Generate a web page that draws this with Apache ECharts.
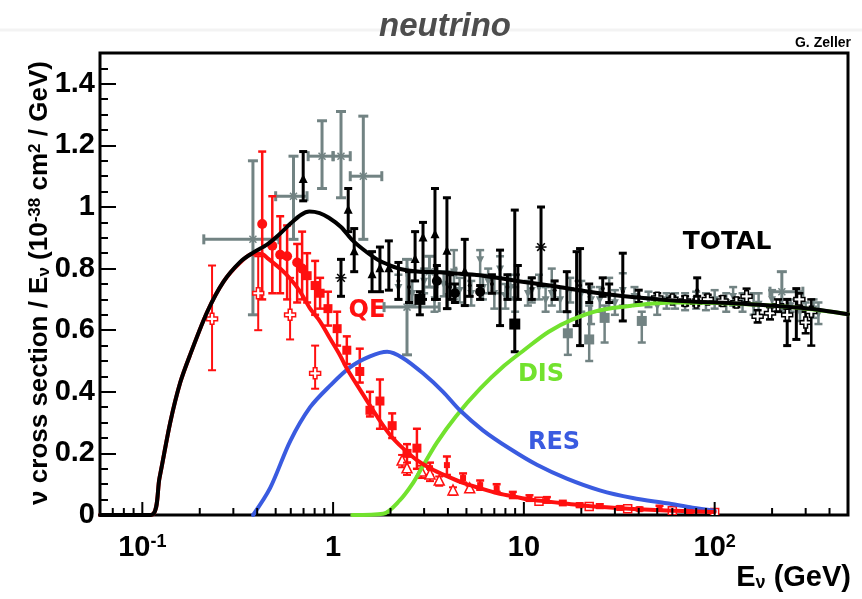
<!DOCTYPE html>
<html>
<head>
<meta charset="utf-8">
<script src="https://cdn.jsdelivr.net/npm/echarts@6/dist/echarts.min.js"></script>
<style>
  html, body { margin: 0; padding: 0; background: #ffffff; }
  #chart { width: 862px; height: 599px; }
</style>
</head>
<body>
<div id="chart"></div>
<script>
// ---------- axis ticks and labels ----------
const xMajorTicks = [0.1, 1, 10, 100];
const xMinorTicks = [0.07, 0.08, 0.09, 0.2, 0.3, 0.4, 0.5, 0.6, 0.7, 0.8, 0.9,
                     2, 3, 4, 5, 6, 7, 8, 9, 20, 30, 40, 50, 60, 70, 80, 90, 200, 300, 400];
const xLabelExponents = [-1, 0, 1, 2];
const xLabelTexts = ['10{sup|-1}', '1', '10', '10{sup|2}'];

// ---------- model curves: [E (GeV), sigma/E] ----------
const totalCurve = [
  [0.06, 0], [0.111, 0], [0.123, 0.12], [0.140, 0.30], [0.158, 0.43], [0.178, 0.52],
  [0.219, 0.66], [0.266, 0.757], [0.326, 0.822], [0.381, 0.852], [0.45, 0.878],
  [0.52, 0.91], [0.60, 0.947], [0.68, 0.975], [0.75, 0.985], [0.85, 0.98],
  [0.95, 0.965], [1.1, 0.935], [1.25, 0.895], [1.44, 0.862], [1.7, 0.83],
  [2.0, 0.81], [2.32, 0.797], [2.85, 0.79], [3.63, 0.788], [4.62, 0.783],
  [6.1, 0.777], [9.19, 0.76], [13.7, 0.745], [20.4, 0.728], [31.8, 0.712],
  [63.2, 0.696], [140, 0.686], [314, 0.67], [500, 0.652]
];
const qeCurve = [
  [0.06, 0], [0.111, 0], [0.123, 0.12], [0.140, 0.30], [0.158, 0.43], [0.178, 0.52],
  [0.219, 0.66], [0.266, 0.757], [0.326, 0.82], [0.381, 0.848], [0.42, 0.848],
  [0.451, 0.835], [0.528, 0.80], [0.596, 0.767], [0.672, 0.725], [0.758, 0.67],
  [0.855, 0.628], [0.964, 0.573], [1.088, 0.518], [1.18, 0.476], [1.44, 0.39],
  [1.70, 0.32], [1.99, 0.26], [2.32, 0.217], [2.75, 0.178], [3.22, 0.152],
  [3.95, 0.126], [4.80, 0.104], [5.89, 0.087], [7.22, 0.071], [8.75, 0.061],
  [10.7, 0.05], [13.2, 0.044], [16.0, 0.038], [19.6, 0.032], [30.7, 0.023],
  [45.7, 0.017], [68, 0.013], [100, 0.01]
];
const resCurve = [
  [0.381, 0], [0.468, 0.088], [0.596, 0.24], [0.758, 0.35], [0.964, 0.42],
  [1.23, 0.48], [1.56, 0.515], [1.92, 0.53], [2.32, 0.51], [2.96, 0.46],
  [3.77, 0.40], [4.62, 0.34], [6.10, 0.275], [8.45, 0.215], [11.7, 0.163],
  [16.8, 0.118], [25.0, 0.08], [37.2, 0.055], [56.1, 0.038], [76.7, 0.024], [100, 0.014]
];
const disCurve = [
  [1.26, 0], [1.83, 0.004], [2.24, 0.048], [2.6, 0.10], [2.9, 0.15], [3.5, 0.235],
  [4.4, 0.32], [5.9, 0.41], [7.9, 0.485], [10.0, 0.535], [13.5, 0.595], [18, 0.635],
  [25, 0.665], [37, 0.68], [60, 0.69], [120, 0.687], [250, 0.675], [500, 0.652]
];

// ---------- measurements: [E, value, lower, upper] (+ [Elow, Ehigh] for binned points) ----------
const qeCircles = [
  [0.425, 0.945, 0.70, 1.18], [0.48, 0.874, 0.72, 1.035], [0.528, 0.845, 0.72, 0.97],
  [0.574, 0.84, 0.70, 0.94], [0.648, 0.82, 0.69, 0.88], [0.688, 0.80, 0.70, 0.92]
];
const qeSquares = [
  [0.731, 0.777, 0.69, 0.85], [0.805, 0.745, 0.65, 0.825], [0.855, 0.72, 0.67, 0.77],
  [0.94, 0.67, 0.615, 0.725], [1.05, 0.605, 0.55, 0.66], [1.18, 0.535, 0.49, 0.58],
  [1.38, 0.466, 0.43, 0.54], [1.56, 0.34, 0.32, 0.40], [1.76, 0.37, 0.28, 0.44],
  [2.04, 0.29, 0.25, 0.33], [2.44, 0.20, 0.17, 0.23], [2.75, 0.217, 0.15, 0.28]
];
const qeHighE = [
  [3.22, 0.152, 0.13, 0.17], [3.95, 0.162, 0.13, 0.19], [4.8, 0.12, 0.105, 0.135],
  [5.9, 0.097, 0.082, 0.112], [7.2, 0.087, 0.075, 0.10], [8.75, 0.065, 0.055, 0.075],
  [10.7, 0.055, 0.046, 0.064], [13.2, 0.049, 0.04, 0.058], [16, 0.039, 0.032, 0.046],
  [19.6, 0.032, 0.026, 0.038], [25, 0.029, 0.023, 0.035], [31.8, 0.023, 0.018, 0.028],
  [40.4, 0.019, 0.015, 0.024], [51.4, 0.023, 0.016, 0.03], [74, 0.013, 0.008, 0.018]
];
const qeOpenCross = [
  [0.232, 0.637, 0.47, 0.81], [0.405, 0.72, 0.60, 0.84],
  [0.595, 0.65, 0.57, 0.77], [0.805, 0.46, 0.41, 0.55]
];
const qeOpenTri = [
  [2.3, 0.175, 0.155, 0.195], [2.44, 0.15, 0.13, 0.17], [2.9, 0.14, 0.12, 0.16],
  [3.22, 0.13, 0.11, 0.15], [3.6, 0.11, 0.095, 0.125], [4.25, 0.078, 0.065, 0.09],
  [5.2, 0.085, 0.075, 0.095]
];
const qeOpenSquare = [
  [12, 0.045, 0.04, 0.05], [22, 0.028, 0.024, 0.032], [35, 0.02, 0.017, 0.023],
  [60, 0.014, 0.011, 0.017], [100, 0.008, 0.004, 0.012]
];

const totTriangles = [
  [0.697, 1.09, 1.02, 1.18], [1.2, 0.99, 0.92, 1.06], [1.29, 0.855, 0.79, 0.93],
  [1.6, 0.78, 0.725, 0.855], [1.76, 0.80, 0.725, 0.87], [1.96, 0.80, 0.73, 0.89],
  [2.69, 0.83, 0.76, 0.92], [2.96, 0.90, 0.70, 0.95], [3.42, 0.91, 0.70, 1.06],
  [3.95, 0.857, 0.67, 1.03], [4.9, 0.79, 0.68, 0.895]
];
const totStars = [[1.1, 0.77, 0.71, 0.83], [12.3, 0.87, 0.745, 1.0]];
const totCircles = [[3.5, 0.76, 0.70, 0.81], [4.35, 0.72, 0.69, 0.75], [5.9, 0.725, 0.70, 0.745]];
const totSquares = [[2.85, 0.70, 0.65, 0.725], [8.96, 0.62, 0.53, 0.99]];
const totSmall = [
  [2.2, 0.76, 0.70, 0.82], [2.5, 0.74, 0.69, 0.79], [4.1, 0.74, 0.70, 0.78],
  [5.2, 0.745, 0.71, 0.78], [6.8, 0.75, 0.72, 0.78], [7.5, 0.77, 0.615, 0.86],
  [8.2, 0.74, 0.70, 0.78], [9.3, 0.78, 0.70, 0.81], [11, 0.735, 0.70, 0.77],
  [14.5, 0.73, 0.70, 0.76], [16.8, 0.735, 0.66, 0.79], [18.9, 0.76, 0.615, 0.855],
  [19.7, 0.745, 0.55, 0.865], [22, 0.72, 0.69, 0.75], [25.9, 0.735, 0.71, 0.77],
  [28, 0.72, 0.69, 0.75], [33, 0.725, 0.63, 0.85], [40, 0.71, 0.69, 0.73],
  [81, 0.73, 0.71, 0.77], [240, 0.66, 0.55, 0.70], [268, 0.70, 0.57, 0.735]
];
const totOpenCross = [
  [50, 0.705, 0.69, 0.72], [60, 0.70, 0.69, 0.71], [70, 0.695, 0.68, 0.71],
  [80, 0.69, 0.68, 0.70], [92, 0.70, 0.69, 0.715], [110, 0.695, 0.68, 0.71],
  [130, 0.69, 0.675, 0.705], [147, 0.71, 0.69, 0.735], [168, 0.645, 0.625, 0.665],
  [195, 0.655, 0.635, 0.675], [215, 0.68, 0.66, 0.70], [240, 0.65, 0.63, 0.67],
  [278, 0.70, 0.68, 0.72], [300, 0.625, 0.59, 0.66], [321, 0.66, 0.55, 0.70]
];
const grayCross = [
  [0.38, 0.895, 0.65, 1.15, 0.21, 0.52], [0.62, 1.035, 0.895, 1.165, 0.50, 0.73],
  [0.875, 1.165, 1.06, 1.28, 0.74, 1.0], [1.1, 1.165, 1.03, 1.31, 1.0, 1.23],
  [1.44, 1.10, 0.895, 1.295, 1.23, 1.8], [2.44, 0.675, 0.52, 0.83, 1.85, 3.6],
  [3.2, 0.79, 0.74, 0.84, 2.44, 4.4], [225, 0.725, 0.66, 0.79, 195, 290]
];
const grayTriDown = [
  [2.2, 0.74, 0.70, 0.78], [2.6, 0.72, 0.68, 0.76], [3.0, 0.76, 0.72, 0.80],
  [3.4, 0.70, 0.66, 0.74], [3.8, 0.75, 0.71, 0.79], [4.0, 0.71, 0.67, 0.75],
  [4.3, 0.79, 0.70, 0.86], [4.6, 0.73, 0.69, 0.77], [5.3, 0.72, 0.68, 0.76],
  [5.9, 0.83, 0.70, 0.86], [6.1, 0.74, 0.70, 0.78], [6.5, 0.76, 0.72, 0.80],
  [7.0, 0.72, 0.67, 0.77], [7.5, 0.80, 0.72, 0.84], [8.0, 0.71, 0.67, 0.75],
  [8.5, 0.74, 0.70, 0.78], [9.0, 0.70, 0.66, 0.74], [10.5, 0.72, 0.68, 0.76],
  [11, 0.73, 0.69, 0.77], [12, 0.74, 0.70, 0.78], [13, 0.70, 0.66, 0.74],
  [14, 0.72, 0.68, 0.80], [15.5, 0.70, 0.66, 0.74], [17.5, 0.73, 0.69, 0.77],
  [20, 0.72, 0.66, 0.76], [22.5, 0.70, 0.62, 0.74], [25, 0.70, 0.66, 0.74],
  [28, 0.71, 0.67, 0.77], [30, 0.69, 0.65, 0.73], [33, 0.73, 0.68, 0.785],
  [38, 0.71, 0.68, 0.74], [45, 0.70, 0.675, 0.725], [50, 0.68, 0.65, 0.71],
  [56, 0.70, 0.67, 0.72], [62, 0.70, 0.67, 0.72], [70, 0.695, 0.665, 0.72],
  [80, 0.70, 0.67, 0.725], [90, 0.69, 0.665, 0.72], [100, 0.70, 0.67, 0.73],
  [115, 0.69, 0.66, 0.72], [125, 0.71, 0.68, 0.74], [140, 0.69, 0.66, 0.72],
  [160, 0.68, 0.65, 0.72], [170, 0.685, 0.65, 0.72], [200, 0.70, 0.66, 0.73],
  [250, 0.68, 0.66, 0.70], [280, 0.66, 0.63, 0.69], [300, 0.66, 0.63, 0.69],
  [330, 0.67, 0.64, 0.70], [350, 0.655, 0.62, 0.69]
];
const graySquares = [
  [17, 0.59, 0.52, 0.66], [22, 0.57, 0.50, 0.68], [26.5, 0.64, 0.56, 0.68], [41.5, 0.63, 0.56, 0.66]
];

// ---------- styling ----------
const RED = '#ff1010', BLUE = '#3a5be0', GREEN = '#72e22e', BLACK = '#000000', GRAY = '#728383';
const FONT = '"Liberation Sans", Arial, sans-serif';
const WIDE = '"DejaVu Sans", sans-serif';

function markerShape(kind, cx, cy, s, color) {
  const h = s / 2;
  switch (kind) {
    case 'circle':
      return { type: 'circle', shape: { cx, cy, r: h }, style: { fill: color } };
    case 'square':
      return { type: 'rect', shape: { x: cx - h, y: cy - h, width: s, height: s }, style: { fill: color } };
    case 'openSquare':
      return { type: 'rect', shape: { x: cx - h, y: cy - h, width: s, height: s }, style: { fill: '#fff', stroke: color, lineWidth: 1.5 } };
    case 'tri':
      return { type: 'polygon', shape: { points: [[cx, cy - s * 0.6], [cx - h, cy + s * 0.4], [cx + h, cy + s * 0.4]] }, style: { fill: color } };
    case 'triDown':
      return { type: 'polygon', shape: { points: [[cx, cy + s * 0.6], [cx - h, cy - s * 0.4], [cx + h, cy - s * 0.4]] }, style: { fill: color } };
    case 'openTri':
      return { type: 'polygon', shape: { points: [[cx, cy - s * 0.6], [cx - h, cy + s * 0.4], [cx + h, cy + s * 0.4]] }, style: { fill: '#fff', stroke: color, lineWidth: 1.5 } };
    case 'openCross': {
      const a = s / 6;
      return { type: 'polygon', shape: { points: [
        [cx - a, cy - h], [cx + a, cy - h], [cx + a, cy - a], [cx + h, cy - a], [cx + h, cy + a],
        [cx + a, cy + a], [cx + a, cy + h], [cx - a, cy + h], [cx - a, cy + a], [cx - h, cy + a],
        [cx - h, cy - a], [cx - a, cy - a]] }, style: { fill: '#fff', stroke: color, lineWidth: 1.5 } };
    }
    case 'star': {
      const d = h * 0.7, st = { stroke: color, lineWidth: 1.5 };
      return { type: 'group', children: [
        { type: 'line', shape: { x1: cx - h, y1: cy, x2: cx + h, y2: cy }, style: st },
        { type: 'line', shape: { x1: cx, y1: cy - h, x2: cx, y2: cy + h }, style: st },
        { type: 'line', shape: { x1: cx - d, y1: cy - d, x2: cx + d, y2: cy + d }, style: st },
        { type: 'line', shape: { x1: cx - d, y1: cy + d, x2: cx + d, y2: cy - d }, style: st }
      ] };
    }
    default:
      return { type: 'group', children: [] };
  }
}

function pointSeries(name, data, color, marker, opt) {
  opt = opt || {};
  const lw = opt.lw || 2, cap = opt.cap || 3.5, size = opt.size || 8, xerr = !!opt.xerr;
  return {
    name, type: 'custom', data, z: opt.z || 3, clip: true,
    encode: { x: 0, y: 1 },
    renderItem: function (params, api) {
      const E = api.value(0), v = api.value(1);
      const p = api.coord([E, v]);
      const lo = api.coord([E, api.value(2)]);
      const hi = api.coord([E, api.value(3)]);
      const st = { stroke: color, lineWidth: lw };
      const kids = [
        { type: 'line', shape: { x1: p[0], y1: lo[1], x2: p[0], y2: hi[1] }, style: st },
        { type: 'line', shape: { x1: p[0] - cap, y1: lo[1], x2: p[0] + cap, y2: lo[1] }, style: st },
        { type: 'line', shape: { x1: p[0] - cap, y1: hi[1], x2: p[0] + cap, y2: hi[1] }, style: st }
      ];
      if (xerr) {
        const a = api.coord([api.value(4), v]), b = api.coord([api.value(5), v]);
        kids.push({ type: 'line', shape: { x1: a[0], y1: p[1], x2: b[0], y2: p[1] }, style: st });
        kids.push({ type: 'line', shape: { x1: a[0], y1: p[1] - cap, x2: a[0], y2: p[1] + cap }, style: st });
        kids.push({ type: 'line', shape: { x1: b[0], y1: p[1] - cap, x2: b[0], y2: p[1] + cap }, style: st });
      }
      kids.push(markerShape(marker, p[0], p[1], size, color));
      return { type: 'group', children: kids };
    }
  };
}

function tickSeries(values, len) {
  return {
    type: 'custom', z: 10, clip: false,
    data: values.map(v => [v, 0]),
    encode: { x: 0, y: 1 },
    renderItem: function (params, api) {
      const p = api.coord([api.value(0), 0]);
      return { type: 'line', shape: { x1: p[0], y1: p[1], x2: p[0], y2: p[1] - len },
               style: { stroke: BLACK, lineWidth: 2 } };
    }
  };
}

function curveSeries(name, data, color, z) {
  return {
    name, type: 'line', data, z, showSymbol: false, symbol: 'none',
    smooth: 0.3, clip: true,
    lineStyle: { color, width: 4, cap: 'round', join: 'round' }
  };
}

const chart = echarts.init(document.getElementById('chart'), null, { renderer: 'canvas' });

chart.setOption({
  animation: false,
  backgroundColor: '#ffffff',
  grid: {
    left: 100, right: 14, top: 53, bottom: 84,
    show: true, borderColor: BLACK, borderWidth: 3, backgroundColor: 'transparent',
    outerBoundsMode: 'none'
  },
  xAxis: {
    type: 'log', logBase: 10, min: 0.06, max: 500,
    axisLine: { show: false }, axisTick: { show: false }, splitLine: { show: false },
    axisLabel: {
      showMinLabel: false, showMaxLabel: false,
      margin: 18, color: BLACK, fontFamily: FONT, fontWeight: 'bold', fontSize: 29,
      formatter: function (v) {
        const lg = Math.log10(v);
        for (let i = 0; i < xLabelExponents.length; i++) {
          if (Math.abs(lg - xLabelExponents[i]) < 1e-6) return xLabelTexts[i];
        }
        return '';
      },
      rich: { sup: { fontFamily: FONT, fontWeight: 'bold', fontSize: 18, verticalAlign: 'top', color: BLACK } }
    }
  },
  yAxis: {
    type: 'value', min: 0, max: 1.5, interval: 0.2,
    axisLine: { show: false }, splitLine: { show: false },
    axisTick: { show: true, inside: true, length: 16, lineStyle: { color: BLACK, width: 2 } },
    minorTick: { show: true, splitNumber: 4, length: 8, lineStyle: { color: BLACK, width: 2 } },
    minorSplitLine: { show: false },
    axisLabel: { showMaxLabel: false, margin: 5, color: BLACK, fontFamily: FONT, fontWeight: 'bold', fontSize: 29 }
  },
  series: [
    tickSeries(xMajorTicks, 13),
    tickSeries(xMinorTicks, 7),
    pointSeries('gray binned', grayCross, GRAY, 'star', { xerr: true, lw: 3, cap: 5, size: 10, z: 2 }),
    pointSeries('gray', grayTriDown, GRAY, 'triDown', { lw: 2.5, cap: 4, size: 8, z: 2 }),
    pointSeries('gray squares', graySquares, GRAY, 'square', { lw: 2.5, cap: 4, size: 10, z: 2 }),
    pointSeries('total triangles', totTriangles, BLACK, 'tri', { lw: 3, cap: 4, size: 9 }),
    pointSeries('total stars', totStars, BLACK, 'star', { lw: 3, cap: 4, size: 11 }),
    pointSeries('total circles', totCircles, BLACK, 'circle', { lw: 3, cap: 4, size: 10 }),
    pointSeries('total squares', totSquares, BLACK, 'square', { lw: 3, cap: 4, size: 11 }),
    pointSeries('total small', totSmall, BLACK, 'circle', { lw: 3, cap: 4, size: 4 }),
    pointSeries('total high E', totOpenCross, BLACK, 'openCross', { lw: 2.5, cap: 4, size: 11 }),
    pointSeries('QE circles', qeCircles, RED, 'circle', { lw: 2.5, cap: 4, size: 10 }),
    pointSeries('QE squares', qeSquares, RED, 'square', { lw: 2.5, cap: 4, size: 9 }),
    pointSeries('QE high E', qeHighE, RED, 'square', { lw: 2.5, cap: 4, size: 6 }),
    pointSeries('QE open', qeOpenCross, RED, 'openCross', { lw: 2, cap: 4, size: 11 }),
    pointSeries('QE triangles', qeOpenTri, RED, 'openTri', { lw: 2, cap: 4, size: 10 }),
    pointSeries('QE open squares', qeOpenSquare, RED, 'openSquare', { lw: 2, cap: 4, size: 8 }),
    curveSeries('DIS', disCurve, GREEN, 5),
    curveSeries('RES', resCurve, BLUE, 6),
    curveSeries('QE', qeCurve, RED, 7),
    curveSeries('TOTAL', totalCurve, BLACK, 8)
  ],
  graphic: [
    { type: 'line', silent: true, z: -1, shape: { x1: 0, y1: 30, x2: 862, y2: 30 }, style: { stroke: '#f3f3f3', lineWidth: 3 } },
    { type: 'text', x: 445, y: 27, style: { text: 'neutrino', fill: '#4d4d4d', font: 'italic bold 33px ' + FONT, textAlign: 'center', textVerticalAlign: 'middle' } },
    { type: 'text', x: 851, y: 43, style: { text: 'G. Zeller', fill: BLACK, font: 'bold 14px ' + FONT, textAlign: 'right', textVerticalAlign: 'middle' } },
    { type: 'text', x: 851, y: 578, style: {
        text: 'E{sub|ν} (GeV)', fill: BLACK, font: 'bold 29px ' + FONT, textAlign: 'right', textVerticalAlign: 'middle',
        rich: { sub: { font: 'bold 18px ' + FONT, fill: BLACK, verticalAlign: 'bottom' } } } },
    { type: 'text', x: 40, y: 283, rotation: Math.PI / 2, style: {
        text: 'ν cross section / E{sub|ν} (10{sup|-38} cm{sup|2} / GeV)', fill: BLACK,
        font: 'bold 26px ' + FONT, textAlign: 'center', textVerticalAlign: 'middle',
        rich: {
          sub: { font: 'bold 17px ' + FONT, fill: BLACK, verticalAlign: 'bottom' },
          sup: { font: 'bold 17px ' + FONT, fill: BLACK, verticalAlign: 'top' }
        } } },
    { type: 'text', x: 367, y: 311, style: { text: 'QE', fill: RED, font: 'bold 24px ' + WIDE, textAlign: 'center', textVerticalAlign: 'middle' } },
    { type: 'text', x: 541, y: 375, style: { text: 'DIS', fill: GREEN, font: 'bold 24px ' + WIDE, textAlign: 'center', textVerticalAlign: 'middle' } },
    { type: 'text', x: 554, y: 443, style: { text: 'RES', fill: BLUE, font: 'bold 24px ' + WIDE, textAlign: 'center', textVerticalAlign: 'middle' } },
    { type: 'text', x: 727, y: 242, style: { text: 'TOTAL', fill: BLACK, font: 'bold 25px ' + WIDE, textAlign: 'center', textVerticalAlign: 'middle' } }
  ]
});
</script>
</body>
</html>
